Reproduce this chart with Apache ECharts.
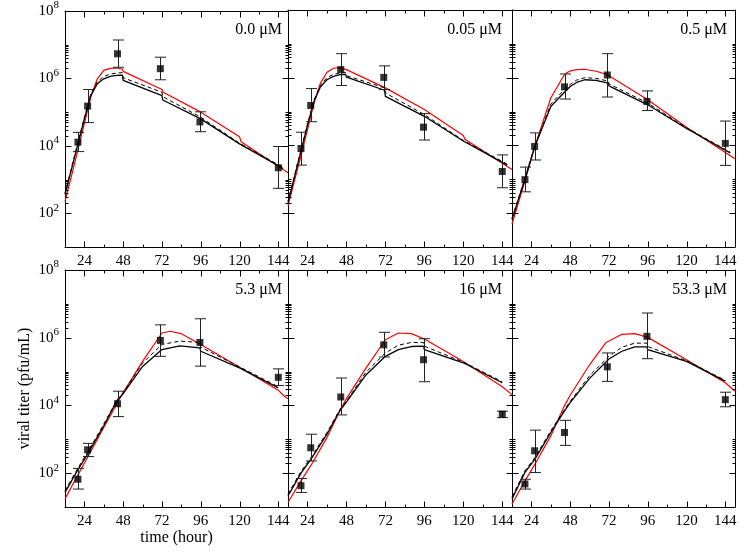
<!DOCTYPE html>
<html>
<head>
<meta charset="utf-8">
<script src="https://cdn.jsdelivr.net/npm/echarts@6/dist/echarts.min.js"></script>
<style>
html, body { margin: 0; padding: 0; background: #fff; }
#chart { width: 750px; height: 552px; }
</style>
</head>
<body>
<div id="chart"></div>
<script>
// panel labels (drug concentration)
const panelNames = ["0.0 μM", "0.05 μM", "0.5 μM", "5.3 μM", "16 μM", "53.3 μM"];

// tick positions
const xTicksMajor = [24, 48, 72, 96, 120, 144];
const xTicksMinor = [36, 60, 84, 108, 132];
const yTicksMajor = [1e2, 1e4, 1e6, 1e8];
const yTicksMinor = [2e2, 3e2, 4e2, 5e2, 6e2, 7e2, 8e2, 9e2, 1e3,
                     2e4, 3e4, 4e4, 5e4, 6e4, 7e4, 8e4, 9e4, 1e5,
                     2e6, 3e6, 4e6, 5e6, 6e6, 7e6, 8e6, 9e6, 1e7];

// measured titers: sample times (hour) and log10(pfu/mL), one row per panel
const obsTimes = [20, 26, 44.5, 71, 95.5, 144];
const obsMean = [
    [4.11, 5.18, 6.73, 6.29, 4.71, 3.35],
    [3.91, 5.18, 6.24, 6.01, 4.54, 3.23],
    [2.99, 3.97, 5.73, 6.08, 5.30, 4.06],
    [1.82, 2.69, 4.05, 5.92, 5.86, 4.83],
    [1.63, 2.75, 4.25, 5.79, 5.35, 3.74],
    [1.68, 2.66, 3.20, 5.14, 6.04, 4.17]
];
const obsLow = [
    [3.83, 4.69, 6.33, 5.96, 4.42, 2.74],
    [3.42, 4.70, 5.77, 5.65, 4.16, 2.75],
    [2.63, 3.57, 5.37, 5.43, 5.03, 3.41],
    [1.53, 2.49, 3.67, 5.45, 5.16, 4.59],
    [1.43, 2.36, 3.72, 5.43, 4.70, 3.64],
    [1.53, 2.02, 2.82, 4.71, 5.38, 3.96]
];
const obsHigh = [
    [4.40, 5.67, 7.14, 6.63, 5.01, 3.98],
    [4.39, 5.68, 6.71, 6.35, 4.94, 3.72],
    [3.36, 4.37, 6.11, 6.71, 5.61, 4.72],
    [2.14, 2.88, 4.42, 6.38, 6.56, 5.08],
    [1.84, 3.15, 4.81, 6.16, 5.97, 3.83],
    [1.82, 3.27, 3.56, 5.55, 6.73, 4.39]
];

// model curves [hour, log10 titer]
const redCurves = [
    [[12,2.36],[16,3.1],[20,3.88],[24,4.67],[28,5.45],[32,5.99],[36,6.24],[40,6.30],[44,6.31],[47.5,6.28],[48,6.21],[72,5.67],[72.5,5.6],[96,5.0],[120,4.27],[121,4.12],[150,3.2]],
    [[12,2.22],[20,3.69],[24,4.47],[28,5.25],[32,5.84],[36,6.16],[40,6.28],[44,6.3],[48,6.24],[72,5.7],[96,5.06],[120,4.29],[121,4.18],[150,3.29]],
    [[12,1.68],[20,2.95],[26,3.95],[36,5.4],[44,6.06],[46,6.15],[48,6.2],[52,6.24],[57,6.25],[64,6.19],[71,6.09],[96,5.35],[120,4.54],[150,3.61]],
    [[12,1.24],[20,1.95],[26,2.47],[36,3.35],[48,4.38],[60,5.3],[72,6.14],[77,6.19],[84,6.12],[96,5.8],[120,5.13],[144,4.45],[147,4.3],[150,4.2]],
    [[12,1.14],[20,1.77],[26,2.22],[36,3.05],[44,3.85],[48,4.2],[60,5.1],[72,5.94],[80,6.14],[88,6.12],[96,5.96],[120,5.3],[144,4.55],[150,4.32]],
    [[12,1.09],[20,1.77],[26,2.25],[36,3.1],[44,3.95],[48,4.3],[60,5.2],[70,5.85],[80,6.1],[88,6.12],[96,6.01],[120,5.35],[144,4.67],[150,4.42]]
];
const blackCurves = [
    [[12,2.56],[16,3.3],[20,4.06],[24,4.8],[28,5.5],[32,5.84],[36,5.99],[40,6.06],[44,6.09],[47.5,6.1],[48,5.94],[72,5.49],[72.5,5.36],[96,4.8],[120,4.06],[147,3.33]],
    [[12,2.31],[20,3.83],[24,4.59],[28,5.3],[32,5.73],[36,5.94],[40,6.04],[44,6.09],[47.5,6.1],[48,6.02],[71.5,5.63],[72,5.45],[96,4.86],[120,4.13],[147,3.42]],
    [[12,1.82],[20,3.0],[26,3.95],[36,5.15],[44,5.55],[48,5.74],[52,5.86],[57,5.94],[64,5.92],[71.5,5.84],[72,5.76],[96,5.2],[120,4.5],[147,3.78]],
    [[12,1.43],[20,2.1],[26,2.56],[36,3.4],[44,4.13],[48,4.35],[60,5.15],[72,5.65],[83,5.76],[95.5,5.7],[96,5.6],[120,5.11],[144,4.52]],
    [[12,1.33],[20,2.0],[26,2.4],[36,3.15],[44,3.85],[48,4.1],[60,4.9],[72,5.45],[80,5.65],[88,5.74],[95.5,5.75],[96,5.65],[120,5.26],[144,4.67]],
    [[12,1.24],[20,2.02],[26,2.4],[36,3.2],[44,3.8],[48,4.08],[60,4.8],[72,5.37],[80,5.6],[88,5.73],[95.5,5.73],[96,5.65],[120,5.3],[144,4.72]]
];
const dashedCurves = [
    [[12,2.6],[16,3.35],[20,4.1],[24,4.85],[28,5.54],[32,5.9],[36,6.06],[40,6.13],[44,6.16],[47.5,6.17],[48,6.02],[72,5.59],[72.5,5.46],[96,4.85],[120,4.08],[147,3.36]],
    [[12,2.35],[20,3.87],[24,4.63],[28,5.34],[32,5.78],[36,6.0],[40,6.1],[44,6.14],[47.5,6.15],[48,6.06],[71.5,5.7],[72,5.55],[96,4.91],[120,4.15],[147,3.45]],
    [[12,1.85],[20,3.03],[26,3.98],[36,5.22],[44,5.63],[48,5.8],[52,5.93],[57,6.0],[64,5.98],[71.5,5.9],[72,5.82],[96,5.25],[120,4.52],[147,3.8]],
    [[12,1.48],[20,2.15],[26,2.62],[36,3.45],[44,4.15],[48,4.38],[60,5.25],[72,5.8],[83,5.9],[95.5,5.86],[96,5.72],[120,5.14],[144,4.55]],
    [[12,1.38],[20,2.05],[26,2.45],[36,3.2],[44,3.88],[48,4.13],[60,4.98],[72,5.55],[80,5.78],[88,5.86],[95.5,5.86],[96,5.75],[120,5.28],[144,4.7]],
    [[12,1.3],[20,2.07],[26,2.45],[36,3.25],[44,3.84],[48,4.12],[60,4.88],[72,5.45],[80,5.72],[88,5.84],[95.5,5.84],[96,5.74],[120,5.32],[144,4.74]]
];

const FONT = "'Liberation Serif', 'Times New Roman', serif";
const X_MIN = 12, X_MAX = 150, Y_MIN = 10, Y_MAX = 1e8;
const colLeft = [65, 288, 512];
const colWidth = [223, 224, 223];
const rowTop = [10, 270];
const labelRight = [468, 248, 23];

const grids = [], xAxes = [], yAxes = [], series = [], titles = [];

// tick marks, all drawn inward on the four sides: [x, y, length, side]
const tickItems = [];
xTicksMajor.forEach(t => tickItems.push([t, Y_MIN, 6, 0], [t, Y_MAX, 6, 1]));
xTicksMinor.forEach(t => tickItems.push([t, Y_MIN, 3, 0], [t, Y_MAX, 3, 1]));
yTicksMajor.forEach(v => tickItems.push([X_MIN, v, 6, 2], [X_MAX, v, 6, 3]));
yTicksMinor.forEach(v => tickItems.push([X_MIN, v, 3, 2], [X_MAX, v, 3, 3]));

function renderTick(params, api) {
    const p = api.coord([api.value(0), api.value(1)]);
    const len = api.value(2), side = api.value(3);
    const x = Math.round(p[0]) + 0.5, y = Math.round(p[1]) + 0.5;
    let shape;
    if (side === 0) shape = { x1: x, y1: y, x2: x, y2: y - len };
    else if (side === 1) shape = { x1: x, y1: y, x2: x, y2: y + len };
    else if (side === 2) shape = { x1: x, y1: y, x2: x + len, y2: y };
    else shape = { x1: x, y1: y, x2: x - len, y2: y };
    return { type: "line", shape: shape, style: { stroke: "#000", lineWidth: 1 } };
}

function xAxis(gi, pos, labels) {
    return {
        gridIndex: gi, type: "value", min: X_MIN, max: X_MAX, position: pos,
        axisLine: { show: true, onZero: false, lineStyle: { color: "#000", width: 1 } },
        axisTick: { show: false },
        axisLabel: { show: labels, customValues: xTicksMajor, color: "#000", fontFamily: FONT, fontSize: 15, margin: 7 },
        splitLine: { show: false }
    };
}
function yAxis(gi, pos, labels) {
    return {
        gridIndex: gi, type: "log", logBase: 10, min: Y_MIN, max: Y_MAX, position: pos,
        axisLine: { show: true, onZero: false, lineStyle: { color: "#000", width: 1 } },
        axisTick: { show: false },
        axisLabel: {
            show: labels, customValues: yTicksMajor, margin: 6,
            formatter: v => "{b|10}{s|" + Math.round(Math.log10(v)) + "}",
            rich: {
                b: { fontFamily: FONT, fontSize: 15, color: "#000", lineHeight: 22 },
                s: { fontFamily: FONT, fontSize: 11, color: "#000", verticalAlign: "top", lineHeight: 11 }
            }
        },
        splitLine: { show: false }, minorTick: { show: false }
    };
}
const toXY = pts => pts.map(p => [p[0], Math.pow(10, p[1])]);

function renderErr(params, api) {
    const t = api.value(0);
    const lo = api.coord([t, api.value(1)]);
    const hi = api.coord([t, api.value(2)]);
    const w = 5.5;
    const x = Math.round(lo[0]) + 0.5;
    const st = { stroke: "#222", lineWidth: 1 };
    return {
        type: "group",
        children: [
            { type: "line", shape: { x1: x, y1: lo[1], x2: x, y2: hi[1] }, style: st },
            { type: "line", shape: { x1: x - w, y1: lo[1], x2: x + w, y2: lo[1] }, style: st },
            { type: "line", shape: { x1: x - w, y1: hi[1], x2: x + w, y2: hi[1] }, style: st }
        ]
    };
}

for (let i = 0; i < 6; i++) {
    const r = Math.floor(i / 3), c = i % 3;
    grids.push({ left: colLeft[c], top: rowTop[r], width: colWidth[c], height: 237 });

    const xb = xAxis(i, "bottom", true);
    if (i === 3) {
        xb.name = "time (hour)";
        xb.nameLocation = "middle";
        xb.nameGap = 22;
        xb.nameTextStyle = { fontFamily: FONT, fontSize: 16, color: "#000" };
    }
    xAxes.push(xb, xAxis(i, "top", false));

    const yl = yAxis(i, "left", c === 0);
    if (i === 3) {
        yl.name = "viral titer (pfu/mL)";
        yl.nameLocation = "middle";
        yl.nameGap = 32;
        yl.nameTextStyle = { fontFamily: FONT, fontSize: 16, color: "#000" };
    }
    yAxes.push(yl, yAxis(i, "right", false));

    titles.push({
        text: panelNames[i], right: labelRight[c], top: rowTop[r] + 12, padding: 0,
        textStyle: { fontFamily: FONT, fontSize: 16, fontWeight: "normal", color: "#000" }
    });

    const ax = { xAxisIndex: i * 2, yAxisIndex: i * 2 };
    series.push(
        Object.assign({ type: "custom", renderItem: renderTick, silent: true, z: 6,
            encode: { x: 0, y: 1 }, data: tickItems }, ax),
        Object.assign({ type: "line", data: toXY(redCurves[i]), symbol: "none", silent: true, z: 3,
            lineStyle: { color: "#ff0000", width: 1.2 } }, ax),
        Object.assign({ type: "line", data: toXY(dashedCurves[i]), symbol: "none", silent: true, z: 3,
            lineStyle: { color: "#000", width: 1, type: [4, 3] } }, ax),
        Object.assign({ type: "line", data: toXY(blackCurves[i]), symbol: "none", silent: true, z: 3,
            lineStyle: { color: "#000", width: 1.3 } }, ax),
        Object.assign({ type: "custom", renderItem: renderErr, silent: true, z: 4,
            encode: { x: 0, y: [1, 2] },
            data: obsTimes.map((t, k) => [t, Math.pow(10, obsLow[i][k]), Math.pow(10, obsHigh[i][k])]) }, ax),
        Object.assign({ type: "scatter", symbol: "rect", symbolSize: 7, silent: true, z: 5,
            itemStyle: { color: "#000" },
            data: obsTimes.map((t, k) => [t, Math.pow(10, obsMean[i][k])]) }, ax)
    );
}

const chart = echarts.init(document.getElementById("chart"), null, { renderer: "canvas" });
chart.setOption({
    animation: false,
    backgroundColor: "#fff",
    title: titles,
    grid: grids,
    xAxis: xAxes,
    yAxis: yAxes,
    series: series
});
</script>
</body>
</html>
